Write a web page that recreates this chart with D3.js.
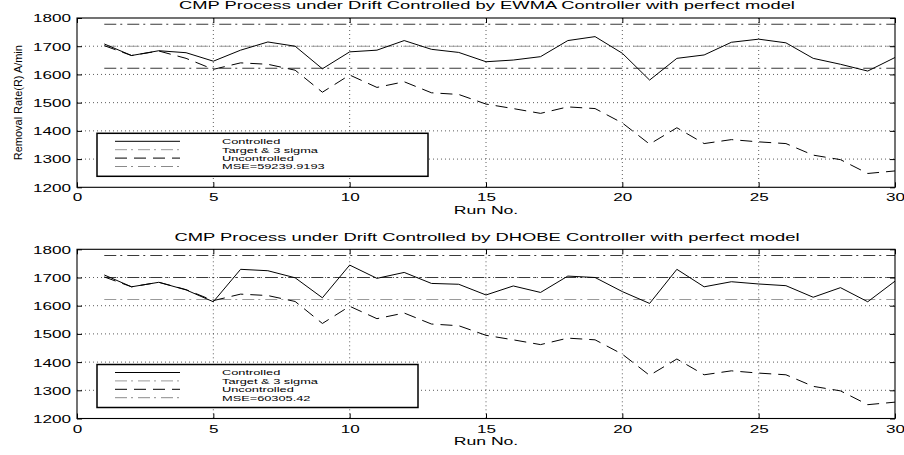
<!DOCTYPE html>
<html>
<head>
<meta charset="utf-8">
<script src="https://cdn.jsdelivr.net/npm/d3@7"></script>
<style>
  html, body { margin: 0; padding: 0; background: #fff; }
  svg { display: block; font-family: "Liberation Sans", Arial, Helvetica, sans-serif; }
</style>
</head>
<body>
<svg id="chart" width="904" height="455"></svg>
<script>
// Run index (x axis)
const runs = [1,2,3,4,5,6,7,8,9,10,11,12,13,14,15,16,17,18,19,20,21,22,23,24,25,26,27,28,29,30];

// Removal rate of the drifting process without control
const uncontrolled = [1702,1667,1683,1657,1618,1641,1636,1615,1537,1598,1554,1574,1535,1529,1495,
                      1479,1462,1485,1479,1428,1353,1411,1355,1369,1361,1355,1314,1298,1249,1258];

// Removal rate under the EWMA controller
const ewmaControlled = [1708,1667,1684,1677,1647,1686,1715,1700,1620,1680,1686,1720,1689,1678,1645,
                        1651,1663,1720,1734,1675,1580,1657,1669,1714,1725,1712,1657,1636,1612,1660];

// Removal rate under the DHOBE controller
const dhobeControlled = [1709,1667,1683,1656,1614,1729,1724,1699,1628,1744,1697,1718,1679,1676,1638,
                         1670,1647,1705,1700,1650,1608,1729,1667,1685,1677,1671,1630,1664,1614,1687];

// Upper 3-sigma limit, target, lower 3-sigma limit
const limitLevels = [1778, 1700, 1622];

// Axis ticks
const xTicks = [0,5,10,15,20,25,30];
const yTicks = [1200,1300,1400,1500,1600,1700,1800];

const legendLabels = ["Controlled", "Target & 3 sigma", "Uncontrolled"];
const yAxisLabel = "Removal Rate(R) A/min";
const xAxisLabel = "Run No.";

const panels = [
  { title: "CMP Process under Drift Controlled by EWMA Controller with perfect model",
    controlled: ewmaControlled, mse: "MSE=59239.9193",
    top: 18, bottom: 187.3, legendRight: 428,
    limitColors: ["#3a3a3a", "#9a9a9a", "#3a3a3a"] },
  { title: "CMP Process under Drift Controlled by DHOBE Controller with perfect model",
    controlled: dhobeControlled, mse: "MSE=60305.42",
    top: 249.3, bottom: 418.5, legendRight: 418,
    limitColors: ["#3a3a3a", "#3a3a3a", "#9a9a9a"] }
];

const svg = d3.select("#chart");
const left = 77, right = 895;
const SX = 1.6;          // glyphs are rendered wide
const FS = 10.7;         // tick label font size
const FS_TITLE = 11.2;
const FS_LEG = 8;        // legend font size
const DASHDOT = "12,4,2,5";
const DASH = "12,7";

function wideText(g, x, y, str, size, anchor, sx) {
  return g.append("text")
    .attr("transform", `translate(${x},${y}) scale(${sx || SX},1)`)
    .attr("text-anchor", anchor)
    .style("font-size", size + "px")
    .attr("fill", "#000")
    .text(str);
}

panels.forEach(p => {
  const g = svg.append("g");
  const x = d3.scaleLinear().domain([0, 30]).range([left, right]);
  const y = d3.scaleLinear().domain([1200, 1800]).range([p.bottom, p.top]);

  // dotted grid
  const grid = g.append("g").attr("stroke", "#333").attr("stroke-width", 0.8)
    .attr("stroke-dasharray", "1,3");
  grid.selectAll("line.gx").data(xTicks.slice(1, -1)).join("line")
    .attr("x1", d => x(d)).attr("x2", d => x(d))
    .attr("y1", p.top).attr("y2", p.bottom);
  grid.selectAll("line.gy").data(yTicks.slice(1, -1)).join("line")
    .attr("y1", d => y(d)).attr("y2", d => y(d))
    .attr("x1", left).attr("x2", right);

  // target and 3-sigma limits
  g.selectAll("line.lim").data(limitLevels).join("line")
    .attr("x1", x(runs[0])).attr("x2", x(runs[runs.length - 1]))
    .attr("y1", d => y(d)).attr("y2", d => y(d))
    .attr("stroke", (d, i) => p.limitColors[i])
    .attr("stroke-width", 1.1)
    .attr("stroke-dasharray", DASHDOT);

  const line = d3.line().x((d, i) => x(runs[i])).y(d => y(d));

  g.append("path").datum(uncontrolled)
    .attr("d", line).attr("fill", "none")
    .attr("stroke", "#000").attr("stroke-width", 1)
    .attr("stroke-dasharray", DASH);

  g.append("path").datum(p.controlled)
    .attr("d", line).attr("fill", "none")
    .attr("stroke", "#000").attr("stroke-width", 1);

  // axes with inward ticks
  const fmt = d3.format("d");
  const axB = g.append("g").attr("transform", `translate(0,${p.bottom})`)
    .call(d3.axisBottom(x).tickValues(xTicks).tickFormat(fmt).tickSizeInner(-5).tickSizeOuter(0));
  const axL = g.append("g").attr("transform", `translate(${left},0)`)
    .call(d3.axisLeft(y).tickValues(yTicks).tickFormat(fmt).tickSizeInner(-5).tickSizeOuter(0));
  g.append("g").attr("transform", `translate(0,${p.top})`)
    .call(d3.axisTop(x).tickValues(xTicks).tickSizeInner(-5).tickSizeOuter(0).tickFormat(""));
  g.append("g").attr("transform", `translate(${right},0)`)
    .call(d3.axisRight(y).tickValues(yTicks).tickSizeInner(-5).tickSizeOuter(0).tickFormat(""));

  g.selectAll(".domain").remove();
  g.selectAll(".tick line").attr("stroke", "#000").attr("stroke-width", 1);
  g.selectAll(".tick text").attr("fill", "#000").style("font-size", FS + "px")
    .style("font-family", "Liberation Sans, Arial, sans-serif");

  axB.selectAll(".tick text")
    .attr("x", null).attr("y", null).attr("dy", null)
    .attr("text-anchor", "middle")
    .attr("transform", `translate(0,14) scale(${SX},1)`);
  axL.selectAll(".tick text")
    .attr("x", null).attr("y", null).attr("dy", null)
    .attr("text-anchor", "end")
    .attr("transform", `translate(-6,3.9) scale(${SX},1)`);

  // plot frame
  g.append("rect").attr("x", left).attr("y", p.top)
    .attr("width", right - left).attr("height", p.bottom - p.top)
    .attr("fill", "none").attr("stroke", "#000").attr("stroke-width", 1.1);

  // title and x label
  wideText(g, 487, p.top - 8.6, p.title, FS_TITLE, "middle", 1.64);
  wideText(g, 486, p.bottom + 26.5, xAxisLabel, 11, "middle", 1.6);

  // legend
  const lg = g.append("g");
  const lgTop = p.bottom - 54, lgBottom = p.bottom - 11;
  lg.append("rect").attr("x", 97).attr("y", lgTop)
    .attr("width", p.legendRight - 97).attr("height", lgBottom - lgTop)
    .attr("fill", "#fff").attr("stroke", "#000").attr("stroke-width", 1.5);
  const entries = [
    { label: legendLabels[0], color: "#000", dash: null },
    { label: legendLabels[1], color: "#9a9a9a", dash: DASHDOT },
    { label: legendLabels[2], color: "#000", dash: DASH },
    { label: p.mse, color: "#8a8a8a", dash: DASHDOT }
  ];
  entries.forEach((e, i) => {
    const cy = lgTop + 8 + i * 8.4;
    lg.append("line").attr("x1", 115).attr("x2", 180)
      .attr("y1", cy).attr("y2", cy)
      .attr("stroke", e.color).attr("stroke-width", 1)
      .attr("stroke-dasharray", e.dash);
    wideText(lg, 222, cy + 2.9, e.label, FS_LEG, "start");
  });
});

// y axis label, on the upper panel only
svg.append("text")
  .attr("transform", `translate(21.5,${(panels[0].top + panels[0].bottom) / 2}) rotate(-90)`)
  .attr("text-anchor", "middle")
  .style("font-size", "10.6px")
  .attr("fill", "#000")
  .attr("textLength", 115).attr("lengthAdjust", "spacingAndGlyphs")
  .text(yAxisLabel);
</script>
</body>
</html>
